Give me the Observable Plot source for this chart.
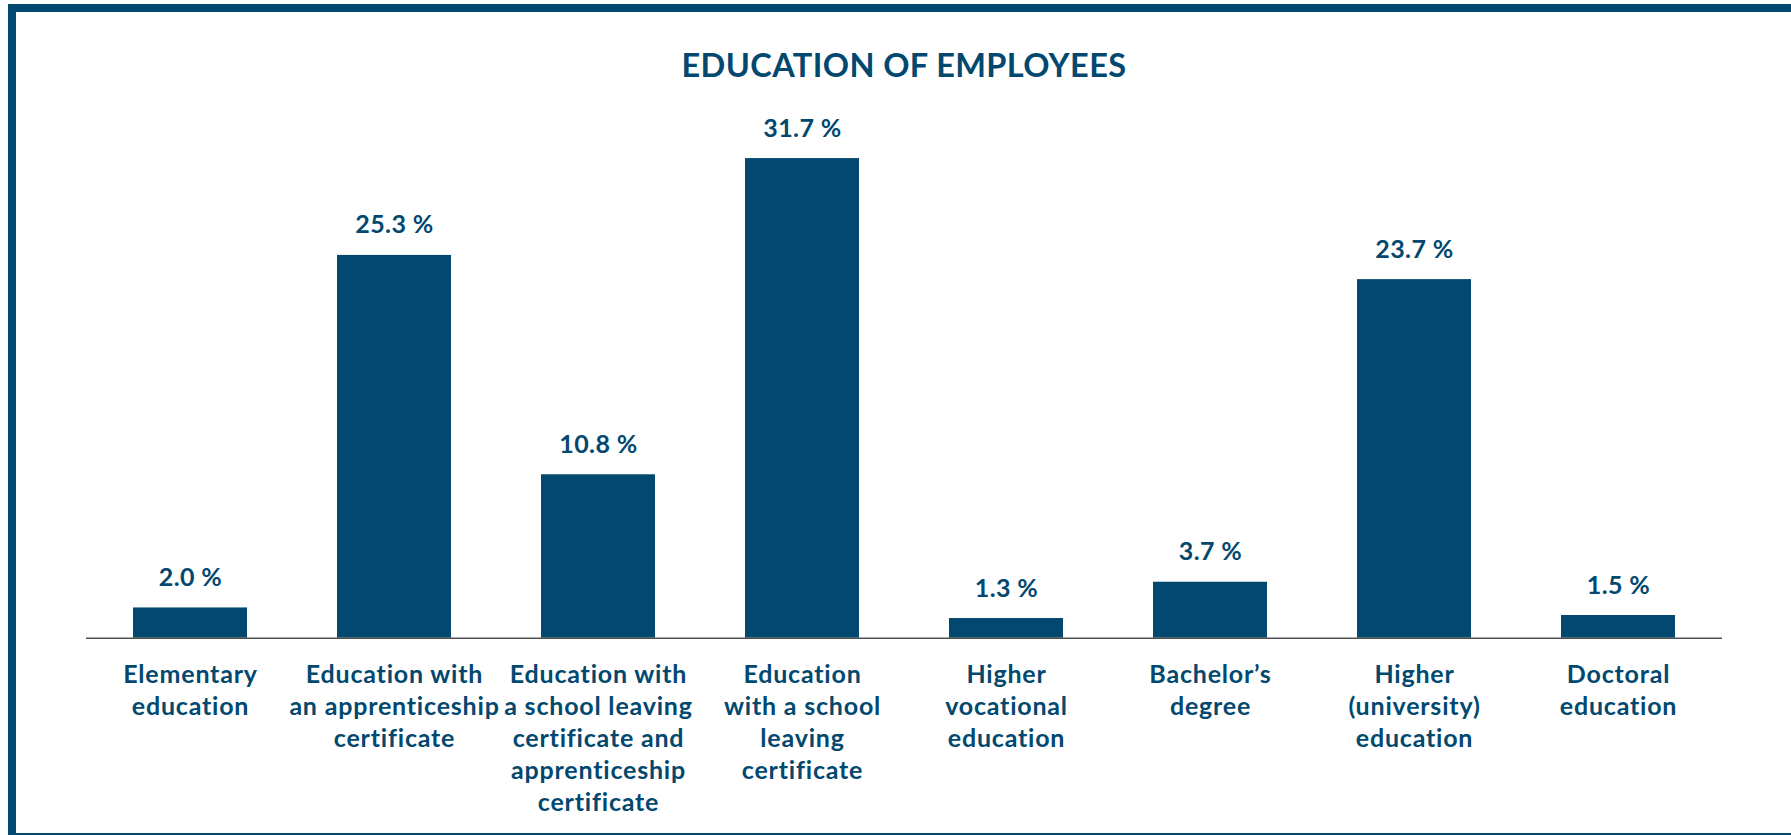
<!DOCTYPE html>
<html>
<head>
<meta charset="utf-8">
<script src="https://cdn.jsdelivr.net/npm/d3@7"></script>
<script src="https://cdn.jsdelivr.net/npm/@observablehq/plot@0.6"></script>
<style>
  html, body { margin: 0; padding: 0; background: #fff; width: 1791px; height: 835px; overflow: hidden; }
  #frame { position: absolute; left: 8px; top: 4px; width: 2000px; height: 821px; border: 8.5px solid #02486f; border-left-width: 8px; pointer-events: none; z-index: 2; }
  #title { position: absolute; top: 44.7px; left: 0; width: 1791px; box-sizing: border-box; padding-left: 17px; margin: 0;
           text-align: center; font: 700 32.5px Lato, sans-serif; line-height: 40px; color: #02486f; letter-spacing: 0.4px; }
  #chart { position: absolute; top: 100px; left: 0; }
  #chart svg g[aria-label="x-axis tick label"] text { letter-spacing: 0.8px; }
  #chart svg g[aria-label="text"] text { letter-spacing: 0.4px; }
</style>
</head>
<body>
<div id="frame"></div>
<h2 id="title">EDUCATION OF EMPLOYEES</h2>
<div id="chart"></div>
<script>
const categories = [
  "Elementary education",
  "Education with an apprenticeship certificate",
  "Education with a school leaving certificate and apprenticeship certificate",
  "Education with a school leaving certificate",
  "Higher vocational education",
  "Bachelor’s degree",
  "Higher (university) education",
  "Doctoral education"
];
const values = [2.0, 25.3, 10.8, 31.7, 1.3, 3.7, 23.7, 1.5];
const tickLabels = [
  "Elementary\neducation",
  "Education with\nan apprenticeship\ncertificate",
  "Education with\na school leaving\ncertificate and\napprenticeship\ncertificate",
  "Education\nwith a school\nleaving\ncertificate",
  "Higher\nvocational\neducation",
  "Bachelor’s\ndegree",
  "Higher\n(university)\neducation",
  "Doctoral\neducation"
];

const BLUE = "#02486f";
const data = categories.map((c, i) => ({category: c, value: values[i]}));
const fmt = v => d3.format(".1f")(v) + " %";

const chart = Plot.plot({
  width: 1791,
  height: 735,
  marginLeft: 86,
  marginRight: 69,
  marginTop: 8.15,
  marginBottom: 197.3,
  style: {fontFamily: "Lato, sans-serif", background: "transparent", overflow: "visible"},
  x: {domain: categories, paddingInner: 0.4425, paddingOuter: 0.22125, label: null},
  y: {domain: [0, 35], axis: null},
  marks: [
    Plot.barY(data, {x: "category", y: "value", fill: BLUE}),
    Plot.ruleY([0], {stroke: "#505050", strokeWidth: 1.5}),
    Plot.text(data, {x: "category", y: "value", text: d => fmt(d.value), dy: -22, lineAnchor: "bottom",
                     fill: BLUE, fontSize: 25, fontWeight: 700}),
    Plot.axisX({tickSize: 0, tickPadding: 21.8, fontSize: 25, fontWeight: 700, fill: BLUE, lineHeight: 1.284,
                label: null, tickFormat: d => tickLabels[categories.indexOf(d)]})
  ]
});
document.getElementById("chart").appendChild(chart);
</script>
</body>
</html>
